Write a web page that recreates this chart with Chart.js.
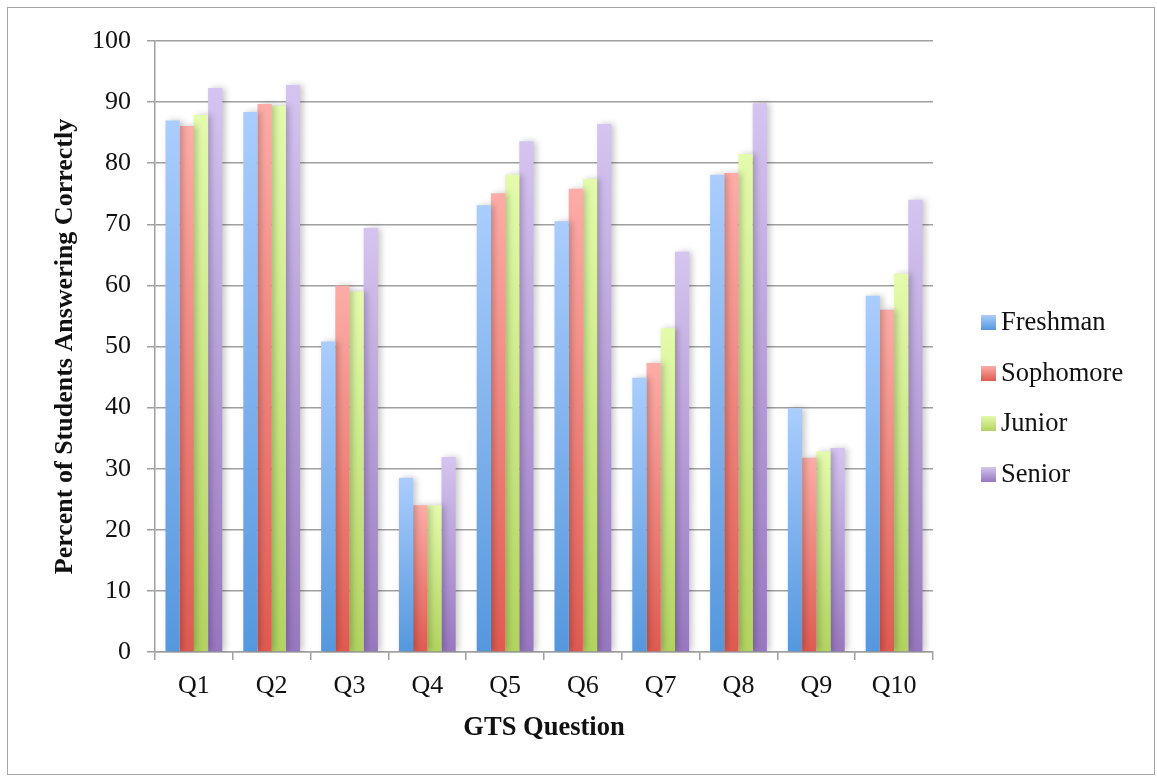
<!DOCTYPE html>
<html>
<head>
<meta charset="utf-8">
<script src="https://cdn.jsdelivr.net/npm/chart.js@4"></script>
<style>
  html, body { margin: 0; padding: 0; background: #fff; }
  #wrap { position: relative; width: 1157px; height: 778px; }
  #frame { position: absolute; left: 7px; top: 7px; width: 1146px; height: 766px; border: 1px solid #a6a6a6; }
  #chart { position: absolute; left: 0; top: 0; }
  #legend { position: absolute; left: 981px; top: 306px; font-family: "Liberation Serif", serif; font-size: 26.5px; color: #111; }
  #legend div { height: 50.5px; display: flex; align-items: flex-start; }
  #legend span.box { width: 15px; height: 15px; margin: 9px 5px 0 0; display: inline-block; }
</style>
</head>
<body>
<div id="wrap">
  <div id="frame"></div>
  <canvas id="chart" width="1157" height="778"></canvas>
  <div id="legend"></div>
</div>
<script>
const questions = ['Q1', 'Q2', 'Q3', 'Q4', 'Q5', 'Q6', 'Q7', 'Q8', 'Q9', 'Q10'];
const yTicks = [0, 10, 20, 30, 40, 50, 60, 70, 80, 90, 100];

const freshman  = [87.0, 88.4, 50.8, 28.5, 73.1, 70.5, 44.9, 78.1, 39.9, 58.3];
const sophomore = [86.1, 89.7, 60.0, 24.0, 75.1, 75.8, 47.3, 78.4, 31.8, 56.0];
const junior    = [87.9, 89.4, 59.0, 24.0, 78.1, 77.4, 53.0, 81.5, 32.8, 61.9];
const senior    = [92.3, 92.8, 69.4, 31.9, 83.6, 86.4, 65.5, 89.8, 33.4, 74.0];

const seriesNames = ['Freshman', 'Sophomore', 'Junior', 'Senior'];
const seriesData = [freshman, sophomore, junior, senior];
// light (top) / dark (bottom) ends of each bar gradient
const topColors = ['#aacdfd', '#fdaca7', '#e3fbab', '#d5c4f0'];
const bottomColors = ['#5597dd', '#df5a51', '#b2d35f', '#9777bf'];

const FONT = '"Liberation Serif", "Times New Roman", serif';

function barGradient(i) {
    return function (ctx) {
        const chart = ctx.chart;
        const y = chart.scales && chart.scales.y;
        if (!chart.chartArea || !y || ctx.raw === undefined) return topColors[i];
        const yTop = y.getPixelForValue(ctx.raw);
        const yBot = y.getPixelForValue(0);
        const g = chart.ctx.createLinearGradient(0, yTop, 0, yBot);
        g.addColorStop(0, topColors[i]);
        g.addColorStop(1, bottomColors[i]);
        return g;
    };
}

const barShadow = {
    id: 'barShadow',
    beforeDatasetsDraw(chart) {
        const c = chart.ctx;
        c.save();
        c.shadowColor = 'rgba(0,0,0,0.22)';
        c.shadowBlur = 6;
        c.shadowOffsetX = 3;
        c.shadowOffsetY = 0;
    },
    afterDatasetsDraw(chart) {
        chart.ctx.restore();
    }
};

new Chart(document.getElementById('chart'), {
    type: 'bar',
    data: {
        labels: questions,
        datasets: seriesNames.map((name, i) => ({
            label: name,
            data: seriesData[i],
            backgroundColor: barGradient(i),
            borderWidth: 0,
            barPercentage: 1.0,
            categoryPercentage: 0.73
        }))
    },
    options: {
        responsive: false,
        animation: false,
        layout: { padding: { left: 0, top: 41, right: 224, bottom: 0 } },
        plugins: {
            legend: { display: false },
            tooltip: { enabled: false }
        },
        scales: {
            x: {
                afterFit: (s) => { s.height = 126; },
                grid: {
                    display: true,
                    offset: true,
                    drawOnChartArea: false,
                    drawTicks: true,
                    tickLength: 8,
                    color: '#a0a0a0',
                    lineWidth: 1.5
                },
                border: { color: '#a0a0a0', width: 1.5 },
                ticks: { color: '#111', font: { family: FONT, size: 26 }, padding: 11 },
                title: {
                    display: true,
                    text: 'GTS Question',
                    color: '#111',
                    font: { family: FONT, size: 26.5, weight: 'bold' },
                    padding: { top: 0, bottom: 34 }
                }
            },
            y: {
                min: 0,
                max: 100,
                afterFit: (s) => { s.width = 155; },
                afterBuildTicks: (s) => { s.ticks = yTicks.map(v => ({ value: v })); },
                grid: {
                    color: '#a0a0a0',
                    lineWidth: 1.5,
                    drawTicks: true,
                    tickLength: 8
                },
                border: { color: '#a0a0a0', width: 1.5 },
                ticks: { color: '#111', font: { family: FONT, size: 26 }, padding: 16 },
                title: {
                    display: true,
                    text: 'Percent of Students Answering Correctly',
                    color: '#111',
                    font: { family: FONT, size: 26, weight: 'bold' },
                    padding: { top: 50, bottom: 0 }
                }
            }
        }
    },
    plugins: [barShadow]
});

// legend as html, built from the series
const legend = document.getElementById('legend');
seriesNames.forEach((name, i) => {
    const row = document.createElement('div');
    const box = document.createElement('span');
    box.className = 'box';
    box.style.background = 'linear-gradient(' + topColors[i] + ', ' + bottomColors[i] + ')';
    row.appendChild(box);
    row.appendChild(document.createTextNode(name));
    legend.appendChild(row);
});
</script>
</body>
</html>
